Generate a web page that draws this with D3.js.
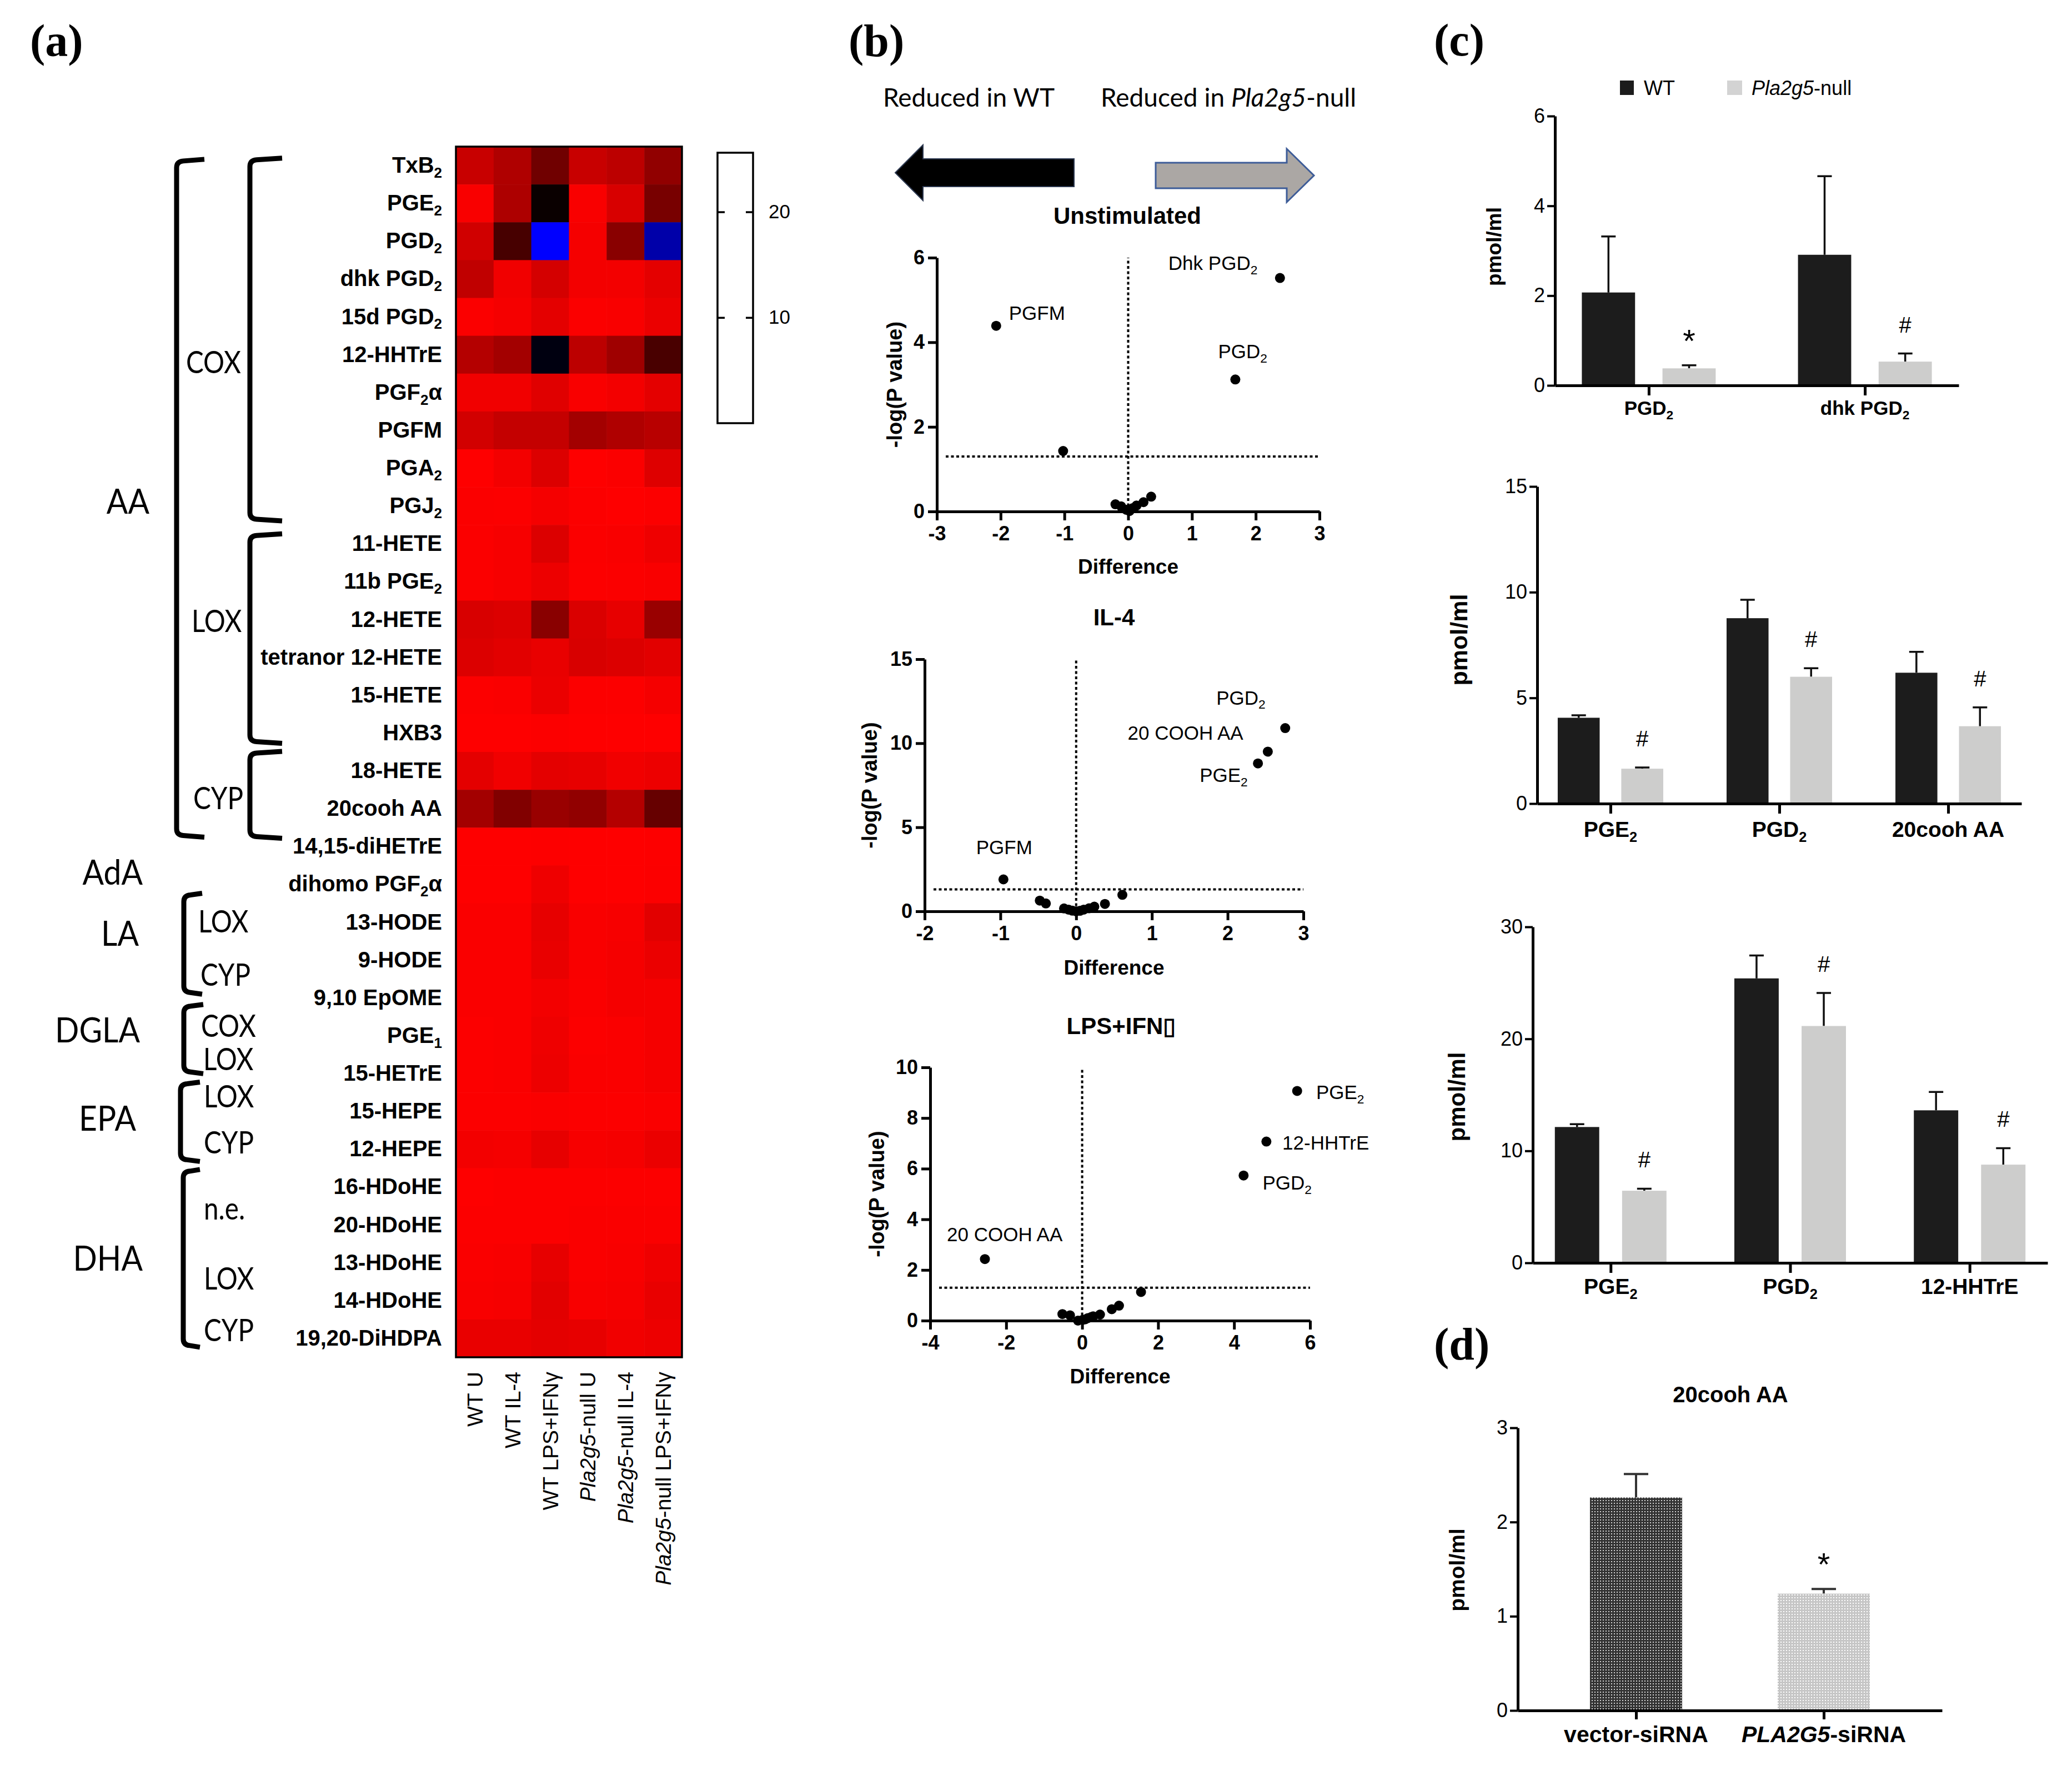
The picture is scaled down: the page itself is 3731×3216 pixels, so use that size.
<!DOCTYPE html>
<html>
<head>
<meta charset="utf-8">
<script src="https://cdn.jsdelivr.net/npm/d3@7"></script>
<style>
  body { margin: 0; background: #fff; }
  text { font-family: "Liberation Sans", Arial, sans-serif; }
</style>
</head>
<body>
<svg id="fig" width="3731" height="3216"></svg>
<script>
// ---------- data: heatmap (a) ----------
// "_2" = subscript, "*x*" = italic
const analytes = ["TxB_2","PGE_2","PGD_2","dhk PGD_2","15d PGD_2","12-HHTrE","PGF_2α","PGFM","PGA_2","PGJ_2",
  "11-HETE","11b PGE_2","12-HETE","tetranor 12-HETE","15-HETE","HXB3","18-HETE","20cooh AA","14,15-diHETrE",
  "dihomo PGF_2α","13-HODE","9-HODE","9,10 EpOME","PGE_1","15-HETrE","15-HEPE","12-HEPE","16-HDoHE","20-HDoHE",
  "13-HDoHE","14-HDoHE","19,20-DiHDPA"];
const conditions = ["WT U","WT IL-4","WT LPS+IFNγ","*Pla2g5*-null U","*Pla2g5*-null IL-4","*Pla2g5*-null LPS+IFNγ"];
const heatValues = [
  [2.7, 3.9, 7.0, 2.7, 3.3, 5.4],
  [0.3, 4.0, 12.0, 0.3, 1.9, 6.6],
  [2.3, 9.0, 25.0, 0.5, 5.8, 20.8],
  [3.1, 0.7, 2.1, 0.6, 0.6, 1.3],
  [0.2, 0.5, 1.3, 0.2, 0.3, 1.0],
  [3.7, 4.5, 13.3, 3.3, 4.7, 8.9],
  [0.7, 0.7, 1.5, 0.3, 0.6, 1.3],
  [2.2, 2.9, 2.9, 4.5, 3.9, 3.5],
  [0.05, 0.6, 1.7, 0.05, 0.2, 1.6],
  [0.2, 0.15, 0.5, 0.15, 0.05, 0.15],
  [0.2, 0.4, 1.7, 0.2, 0.3, 0.8],
  [0.2, 0.4, 0.9, 0.15, 0.2, 0.3],
  [1.9, 1.7, 5.8, 1.8, 1.2, 5.0],
  [1.7, 1.4, 1.1, 1.9, 1.7, 1.4],
  [0.15, 0.25, 1.0, 0.15, 0.15, 0.5],
  [0.05, 0.05, 0.15, 0.05, 0.05, 0.05],
  [1.3, 0.7, 1.3, 1.2, 0.7, 0.9],
  [4.5, 6.2, 5.0, 5.4, 3.7, 7.5],
  [0.05, 0.05, 0.1, 0.05, 0.05, 0.1],
  [0.05, 0.05, 0.8, 0.05, 0.05, 0.15],
  [0.25, 0.25, 1.2, 0.3, 0.4, 1.4],
  [0.25, 0.25, 1.1, 0.3, 0.5, 1.0],
  [0.25, 0.25, 0.6, 0.25, 0.5, 0.5],
  [0.15, 0.25, 0.8, 0.15, 0.25, 0.5],
  [0.15, 0.25, 0.9, 0.25, 0.25, 0.5],
  [0.15, 0.15, 0.25, 0.15, 0.15, 0.25],
  [0.6, 0.5, 1.2, 0.4, 0.5, 1.0],
  [0.05, 0.15, 0.15, 0.15, 0.15, 0.15],
  [0.15, 0.15, 0.15, 0.25, 0.25, 0.25],
  [0.25, 0.35, 1.2, 0.25, 0.35, 0.8],
  [0.35, 0.45, 1.4, 0.35, 0.45, 1.1],
  [1.1, 1.1, 1.3, 1.2, 0.7, 0.9]
];
const colorbarTicks = [10, 20];

// ---------- data: volcano plots (b) ----------
const unstimDiff = [-2.07, -1.02, 2.38, 1.68, -0.20, -0.11, -0.03, 0.02, 0.07, 0.13, 0.24, 0.36];
const unstimLogP = [4.39, 1.43, 5.52, 3.12, 0.17, 0.12, 0.04, 0.01, 0.08, 0.14, 0.22, 0.35];
const il4Diff = [-0.96, 2.76, 2.53, 2.40, -0.48, -0.40, -0.16, -0.10, -0.05, 0.0, 0.05, 0.10, 0.17, 0.24, 0.38, 0.61];
const il4LogP = [1.9, 10.9, 9.5, 8.8, 0.64, 0.47, 0.17, 0.10, 0.04, 0.0, 0.03, 0.10, 0.18, 0.28, 0.44, 0.98];
const lpsDiff = [5.66, 4.85, 4.25, -2.56, 1.55, 0.97, 0.78, 0.47, 0.29, 0.24, 0.15, 0.08, 0.01, -0.11, -0.32, -0.52];
const lpsLogP = [9.07, 7.07, 5.73, 2.43, 1.13, 0.59, 0.45, 0.24, 0.17, 0.14, 0.10, 0.05, 0.03, 0.0, 0.21, 0.26];
const unstimLabels = [["PGFM", -1.87, 4.53], ["Dhk PGD_2", 0.63, 5.71], ["PGD_2", 1.41, 3.62]];
const il4Labels = [["PGD_2", 1.85, 12.3], ["20 COOH AA", 0.68, 10.2], ["PGE_2", 1.63, 7.7], ["PGFM", -1.32, 3.4]];
const lpsLabels = [["PGE_2", 6.16, 8.74], ["12-HHTrE", 5.27, 6.75], ["PGD_2", 4.75, 5.17], ["20 COOH AA", -3.56, 3.13]];
const pThreshold = -Math.log10(0.05);

// ---------- data: bar charts (c), (d) ----------
const c1Groups = ["PGD_2", "dhk PGD_2"];
const c1WT = [2.07, 2.91], c1WTErr = [1.25, 1.75];
const c1KO = [0.38, 0.53], c1KOErr = [0.07, 0.18];
const c1Marks = ["*", "#"];

const c2Groups = ["PGE_2", "PGD_2", "20cooh AA"];
const c2WT = [4.06, 8.77, 6.19], c2WTErr = [0.12, 0.87, 0.99];
const c2KO = [1.65, 6.0, 3.66], c2KOErr = [0.06, 0.4, 0.89];
const c2Marks = ["#", "#", "#"];

const c3Groups = ["PGE_2", "PGD_2", "12-HHTrE"];
const c3WT = [12.13, 25.4, 13.62], c3WTErr = [0.25, 2.05, 1.64];
const c3KO = [6.44, 21.15, 8.77], c3KOErr = [0.18, 2.95, 1.47];
const c3Marks = ["#", "#", "#"];

const dGroups = ["vector-siRNA", "*PLA2G5*-siRNA"];
const dValues = [2.26, 1.24], dErr = [0.25, 0.05];
const dMarks = ["", "*"];

// ---------- helpers ----------
const svg = d3.select("#fig");
svg.append("rect").attr("width", 3731).attr("height", 3216).attr("fill", "#fff");

const defs = svg.append("defs");
function dotPattern(id, base, dot) {
  const p = defs.append("pattern").attr("id", id).attr("width", 5).attr("height", 5)
    .attr("patternUnits", "userSpaceOnUse");
  p.append("rect").attr("width", 5).attr("height", 5).attr("fill", base);
  p.append("rect").attr("width", 2).attr("height", 2).attr("x", 1).attr("y", 1).attr("fill", dot);
}
dotPattern("darkDots", "#333", "#d8d8d8");
dotPattern("lightDots", "#c6c6c6", "#ffffff");

function rich(sel, str, size) {
  const parts = str.split(/(\*[^*]+\*|_\d)/).filter(s => s !== "");
  let shifted = false;
  parts.forEach(p => {
    const t = sel.append("tspan");
    if (p.startsWith("_")) {
      t.text(p.slice(1)).attr("font-size", size * 0.65).attr("dy", size * 0.22);
      shifted = true;
    } else {
      if (shifted) { t.attr("dy", -size * 0.22); shifted = false; }
      if (p.startsWith("*")) t.text(p.slice(1, -1)).attr("font-style", "italic");
      else t.text(p);
    }
  });
  return sel;
}

const markSize = m => m === "*" ? 58 : 40;

function panelLetter(txt, x, y) {
  svg.append("text").attr("x", x).attr("y", y).text(txt)
    .style("font-family", "'Liberation Serif', serif").attr("font-size", 82).attr("font-weight", "bold");
}

function styleAxis(g, size, bold) {
  g.attr("font-family", null).attr("font-size", null);
  g.select(".domain").attr("stroke-width", 5).attr("stroke", "#000");
  g.selectAll(".tick line").attr("stroke-width", 5).attr("stroke", "#000");
  g.selectAll(".tick text").attr("font-size", size).attr("font-weight", bold ? "bold" : "normal").attr("fill", "#000");
}

// ---------- (a) heatmap ----------
function drawHeatmap() {
  const hm = {left: 821, right: 1228, top: 264, bottom: 2444};
  const xCol = d3.scaleBand().domain(d3.range(conditions.length)).range([hm.left, hm.right]);
  const yRow = d3.scaleBand().domain(analytes).range([hm.top, hm.bottom]);
  const rowPos = d3.scaleLinear().domain([0, analytes.length]).range([hm.top, hm.bottom]);
  const heatColor = d3.scaleLinear().domain([0, 12.5, 25]).range(["#ff0000", "#000000", "#0000ff"]);

  const cells = analytes.flatMap((a, i) => heatValues[i].map((v, j) => ({a, j, v})));
  svg.append("g").selectAll("rect").data(cells).join("rect")
    .attr("x", d => xCol(d.j)).attr("y", d => yRow(d.a))
    .attr("width", xCol.bandwidth() + 0.6).attr("height", yRow.bandwidth() + 0.6)
    .attr("fill", d => heatColor(d.v));
  svg.append("rect").attr("x", hm.left).attr("y", hm.top)
    .attr("width", hm.right - hm.left).attr("height", hm.bottom - hm.top)
    .attr("fill", "none").attr("stroke", "#000").attr("stroke-width", 3.5);

  // row labels
  svg.append("g").selectAll("text").data(analytes).join("text")
    .attr("x", 796).attr("y", d => yRow(d) + yRow.bandwidth() / 2 + 13)
    .attr("text-anchor", "end").attr("font-size", 40).attr("font-weight", "bold")
    .each(function(d) { rich(d3.select(this), d, 40); });

  // column labels
  svg.append("g").selectAll("text").data(conditions).join("text")
    .attr("transform", (d, i) => `translate(${xCol(i) + xCol.bandwidth() / 2},${hm.bottom + 26}) rotate(-90)`)
    .attr("dy", "0.36em").attr("text-anchor", "end").attr("font-size", 39)
    .each(function(d) { rich(d3.select(this), d, 39); });

  // brackets (row positions in row units)
  const brackets = [
    {x: 318, arm: 368, r0: 0.38, r1: 18.21},
    {x: 450, arm: 508, r0: 0.35, r1: 9.85},
    {x: 450, arm: 508, r0: 10.28, r1: 15.73},
    {x: 450, arm: 508, r0: 16.03, r1: 18.24},
    {x: 331, arm: 364, r0: 19.78, r1: 22.36},
    {x: 331, arm: 366, r0: 22.72, r1: 24.46},
    {x: 325, arm: 360, r0: 24.77, r1: 26.78},
    {x: 330, arm: 360, r0: 27.08, r1: 31.69}
  ];
  svg.append("g").selectAll("path").data(brackets).join("path")
    .attr("d", b => {
      const y0 = rowPos(b.r0), y1 = rowPos(b.r1), x = b.x, a = b.arm;
      return `M${a},${y0 - 3} L${x + 12},${y0} Q${x},${y0 + 1} ${x},${y0 + 12} L${x},${y1 - 12} Q${x},${y1 - 1} ${x + 12},${y1} L${a},${y1 + 3}`;
    })
    .attr("fill", "none").attr("stroke", "#000").attr("stroke-width", 9);

  const groupLabels = [
    ["AA", 269, 9.37, 1], ["AdA", 257, 19.18, 1], ["LA", 250, 20.79, 1], ["DGLA", 252, 23.35, 1],
    ["EPA", 245, 25.68, 1], ["DHA", 257, 29.38, 1],
    ["COX", 335, 5.70, 0], ["LOX", 345, 12.54, 0], ["CYP", 348, 17.22, 0],
    ["LOX", 357, 20.47, 0], ["CYP", 361, 21.88, 0], ["COX", 362, 23.23, 0], ["LOX", 366, 24.11, 0],
    ["LOX", 367, 25.10, 0], ["CYP", 367, 26.31, 0], ["n.e.", 367, 28.06, 0], ["LOX", 367, 29.91, 0],
    ["CYP", 367, 31.28, 0]
  ];
  // Calibri-like narrow face: squeeze Lato horizontally
  svg.append("g").selectAll("text").data(groupLabels).join("text")
    .attr("transform", d => `translate(${d[1]},${rowPos(d[2])}) scale(${d[3] ? 0.92 : 0.85},1)`)
    .attr("dy", "0.36em")
    .attr("text-anchor", d => d[3] ? "end" : "start")
    .attr("font-size", d => d[3] ? 62 : 56)
    .style("font-family", "Lato, 'Noto Sans', sans-serif")
    .text(d => d[0]);

  // colour bar (drawn blank, as in the figure)
  const cb = {left: 1292, right: 1356, top: 275, bottom: 762};
  const cbScale = d3.scaleLinear().domain([0, 25.6]).range([cb.bottom, cb.top]);
  svg.append("rect").attr("x", cb.left).attr("y", cb.top)
    .attr("width", cb.right - cb.left).attr("height", cb.bottom - cb.top)
    .attr("fill", "#fff").attr("stroke", "#000").attr("stroke-width", 3.5);
  const ra = svg.append("g").attr("transform", `translate(${cb.right},0)`)
    .call(d3.axisRight(cbScale).tickValues(colorbarTicks).tickSize(-13).tickSizeOuter(0).tickPadding(28));
  ra.select(".domain").remove();
  ra.attr("font-family", null).attr("font-size", null);
  ra.selectAll(".tick line").attr("stroke-width", 3.5);
  ra.selectAll(".tick text").attr("font-size", 35);
  const la = svg.append("g").attr("transform", `translate(${cb.left},0)`)
    .call(d3.axisLeft(cbScale).tickValues(colorbarTicks).tickSize(-13).tickFormat(""));
  la.select(".domain").remove();
  la.selectAll(".tick line").attr("stroke-width", 3.5);
}

// ---------- (b) volcano plots ----------
function arrow(tipX, tailX, yc, bodyHalf, headHalf, headLen, fill, stroke, sw) {
  const dir = Math.sign(tipX - tailX);
  const hb = tipX - dir * headLen;
  const pts = [[tailX, yc - bodyHalf], [hb, yc - bodyHalf], [hb, yc - headHalf], [tipX, yc],
    [hb, yc + headHalf], [hb, yc + bodyHalf], [tailX, yc + bodyHalf]];
  svg.append("polygon").attr("points", pts.map(p => p.join(",")).join(" "))
    .attr("fill", fill).attr("stroke", stroke).attr("stroke-width", sw);
}

function drawVolcano(cfg) {
  const g = svg.append("g");
  const x = d3.scaleLinear().domain(cfg.xDomain).range([cfg.left, cfg.right]);
  const y = d3.scaleLinear().domain(cfg.yDomain).range([cfg.bottom, cfg.top]);

  g.append("text").attr("x", cfg.titleX).attr("y", cfg.titleY).attr("text-anchor", "middle")
    .attr("font-size", 42).attr("font-weight", "bold").text(cfg.title);

  // significance guides
  g.append("line").attr("x1", cfg.left + 16).attr("x2", cfg.right)
    .attr("y1", y(pThreshold)).attr("y2", y(pThreshold))
    .attr("stroke", "#000").attr("stroke-width", 4).attr("stroke-dasharray", "5 4.5");
  g.append("line").attr("x1", x(0)).attr("x2", x(0))
    .attr("y1", y(0)).attr("y2", y(cfg.yDomain[1]))
    .attr("stroke", "#000").attr("stroke-width", 4).attr("stroke-dasharray", "5 4.5");

  const xa = g.append("g").attr("transform", `translate(0,${cfg.bottom})`)
    .call(d3.axisBottom(x).tickValues(cfg.xTicks).tickSize(16).tickSizeOuter(0).tickPadding(10).tickFormat(d => String(d)));
  styleAxis(xa, 36, true);
  const ya = g.append("g").attr("transform", `translate(${cfg.left},0)`)
    .call(d3.axisLeft(y).tickValues(cfg.yTicks).tickSize(16).tickSizeOuter(0).tickPadding(6).tickFormat(d => String(d)));
  styleAxis(ya, 36, true);

  g.selectAll("circle").data(cfg.diff.map((d, i) => [d, cfg.logp[i]])).join("circle")
    .attr("cx", d => x(d[0])).attr("cy", d => y(d[1])).attr("r", 9).attr("fill", "#000");

  g.selectAll(".lab").data(cfg.labels).join("text").attr("class", "lab")
    .attr("x", d => x(d[1])).attr("y", d => y(d[2])).attr("font-size", 35)
    .each(function(d) { rich(d3.select(this), d[0], 35); });

  g.append("text").attr("x", (cfg.left + cfg.right) / 2).attr("y", cfg.xTitleY)
    .attr("text-anchor", "middle").attr("font-size", 37).attr("font-weight", "bold").text("Difference");
  g.append("text").attr("transform", `translate(${cfg.yTitleX},${(cfg.top + cfg.bottom) / 2}) rotate(-90)`)
    .attr("dy", "0.35em").attr("text-anchor", "middle").attr("font-size", 38).attr("font-weight", "bold")
    .text("-log(P value)");
}

// ---------- (c), (d) bars ----------
function drawBars(cfg) {
  const g = svg.append("g");
  const x0 = d3.scalePoint().domain(cfg.groups).range([cfg.left, cfg.right]).padding(0.434);
  const x1 = d3.scaleBand().domain(["WT", "KO"]).range([-cfg.half, cfg.half]).paddingInner(0.34);
  const y = d3.scaleLinear().domain([0, cfg.yMax]).range([cfg.bottom, cfg.top]);
  const rows = cfg.groups.flatMap((grp, i) => [
    {grp, s: "WT", v: cfg.wt[i], e: cfg.wtErr[i], mark: ""},
    {grp, s: "KO", v: cfg.ko[i], e: cfg.koErr[i], mark: cfg.marks[i]}
  ]);
  const cx = d => x0(d.grp) + x1(d.s) + x1.bandwidth() / 2;

  g.selectAll(".err").data(rows).join("path").attr("class", "err")
    .attr("d", d => `M${cx(d)},${y(d.v)}V${y(d.v + d.e)}M${cx(d) - 13},${y(d.v + d.e)}H${cx(d) + 13}`)
    .attr("stroke", "#111").attr("stroke-width", 3.5).attr("fill", "none");
  g.selectAll(".bar").data(rows).join("rect").attr("class", "bar")
    .attr("x", d => x0(d.grp) + x1(d.s)).attr("width", x1.bandwidth())
    .attr("y", d => y(d.v)).attr("height", d => y(0) - y(d.v))
    .attr("fill", d => d.s === "WT" ? "#1c1c1c" : "#cdcdcc");
  g.selectAll(".mark").data(rows.filter(d => d.mark)).join("text").attr("class", "mark")
    .attr("x", cx).attr("y", d => y(d.v + d.e) - (d.mark === "*" ? 24 : 38)).attr("text-anchor", "middle")
    .attr("font-size", d => markSize(d.mark)).text(d => d.mark);

  const xa = g.append("g").attr("transform", `translate(0,${cfg.bottom})`)
    .call(d3.axisBottom(x0).tickSize(18).tickSizeOuter(0).tickFormat(""));
  styleAxis(xa, 36, false);
  const ya = g.append("g").attr("transform", `translate(${cfg.left},0)`)
    .call(d3.axisLeft(y).tickValues(cfg.yTicks).tickSize(14).tickSizeOuter(0).tickPadding(4).tickFormat(d => String(d)));
  styleAxis(ya, 36, false);
  ya.selectAll(".tick line").attr("stroke-width", 4);

  g.selectAll(".cat").data(cfg.groups).join("text").attr("class", "cat")
    .attr("x", d => x0(d)).attr("y", cfg.catY).attr("text-anchor", "middle")
    .attr("font-size", cfg.catSize).attr("font-weight", "bold")
    .each(function(d) { rich(d3.select(this), d, cfg.catSize); });
  g.append("text").attr("transform", `translate(${cfg.yTitleX},${cfg.yTitleY}) rotate(-90)`)
    .attr("dy", "0.35em").attr("text-anchor", "middle").attr("font-size", cfg.yTitleSize)
    .attr("font-weight", "bold").text("pmol/ml");
}

function drawSiRNA() {
  const g = svg.append("g");
  const cfg = {left: 2733, right: 3497, top: 2571, bottom: 3080};
  const x = d3.scalePoint().domain(dGroups).range([cfg.left, cfg.right]).padding(0.63);
  const y = d3.scaleLinear().domain([0, 3]).range([cfg.bottom, cfg.top]);
  const rows = dGroups.map((grp, i) => ({grp, v: dValues[i], e: dErr[i], mark: dMarks[i], i}));
  const bw = 166;

  g.append("text").attr("x", 3116).attr("y", 2525).attr("text-anchor", "middle")
    .attr("font-size", 40).attr("font-weight", "bold").text("20cooh AA");
  g.selectAll(".err").data(rows).join("path")
    .attr("d", d => `M${x(d.grp)},${y(d.v)}V${y(d.v + d.e)}M${x(d.grp) - 22},${y(d.v + d.e)}H${x(d.grp) + 22}`)
    .attr("stroke", "#333").attr("stroke-width", 4).attr("fill", "none");
  g.selectAll(".bar").data(rows).join("rect")
    .attr("x", d => x(d.grp) - bw / 2).attr("width", bw)
    .attr("y", d => y(d.v)).attr("height", d => y(0) - y(d.v))
    .attr("fill", d => d.i === 0 ? "url(#darkDots)" : "url(#lightDots)");
  g.selectAll(".mark").data(rows.filter(d => d.mark)).join("text")
    .attr("x", d => x(d.grp)).attr("y", d => y(d.v + d.e) - (d.mark === "*" ? 24 : 38)).attr("text-anchor", "middle")
    .attr("font-size", d => markSize(d.mark)).text(d => d.mark);

  const xa = g.append("g").attr("transform", `translate(0,${cfg.bottom})`)
    .call(d3.axisBottom(x).tickSize(16).tickSizeOuter(0).tickFormat(""));
  styleAxis(xa, 36, false);
  const ya = g.append("g").attr("transform", `translate(${cfg.left},0)`)
    .call(d3.axisLeft(y).tickValues([0, 1, 2, 3]).tickSize(14).tickSizeOuter(0).tickPadding(4).tickFormat(d => String(d)));
  styleAxis(ya, 36, false);
  ya.selectAll(".tick line").attr("stroke-width", 4);

  g.selectAll(".cat").data(dGroups).join("text")
    .attr("x", d => x(d)).attr("y", 3137).attr("text-anchor", "middle")
    .attr("font-size", 41).attr("font-weight", "bold")
    .each(function(d) { rich(d3.select(this), d, 41); });
  g.append("text").attr("transform", `translate(2623,2827) rotate(-90)`)
    .attr("dy", "0.35em").attr("text-anchor", "middle").attr("font-size", 39)
    .attr("font-weight", "bold").text("pmol/ml");
}

// ---------- draw ----------
panelLetter("(a)", 54, 101);
panelLetter("(b)", 1528, 101);
panelLetter("(c)", 2582, 100);
panelLetter("(d)", 2582, 2448);

drawHeatmap();

svg.append("text").attr("x", 1590).attr("y", 192).attr("font-size", 46)
  .style("font-family", "Lato, 'Noto Sans', sans-serif").text("Reduced in WT");
rich(svg.append("text").attr("x", 1982).attr("y", 192).attr("font-size", 46)
  .style("font-family", "Lato, 'Noto Sans', sans-serif"), "Reduced in *Pla2g5*-null", 46);
arrow(1612, 1934, 311, 25, 50, 50, "#000", "#2c3850", 2);
arrow(2366, 2081, 316, 23, 48, 49, "#aba7a4", "#3d5c98", 3);

drawVolcano({title: "Unstimulated", titleX: 2030, titleY: 403,
  xDomain: [-3, 3], yDomain: [0, 6], left: 1687, right: 2376, top: 464, bottom: 921,
  xTicks: [-3, -2, -1, 0, 1, 2, 3], yTicks: [0, 2, 4, 6],
  diff: unstimDiff, logp: unstimLogP, labels: unstimLabels, xTitleY: 1033, yTitleX: 1611});
drawVolcano({title: "IL-4", titleX: 2006, titleY: 1126,
  xDomain: [-2, 3], yDomain: [0, 15], left: 1665, right: 2347, top: 1187, bottom: 1641,
  xTicks: [-2, -1, 0, 1, 2, 3], yTicks: [0, 5, 10, 15],
  diff: il4Diff, logp: il4LogP, labels: il4Labels, xTitleY: 1755, yTitleX: 1566});
drawVolcano({title: "LPS+IFN\u25AF", titleX: 2019, titleY: 1862,
  xDomain: [-4, 6], yDomain: [0, 10], left: 1675, right: 2359, top: 1922, bottom: 2378,
  xTicks: [-4, -2, 0, 2, 4, 6], yTicks: [0, 2, 4, 6, 8, 10],
  diff: lpsDiff, logp: lpsLogP, labels: lpsLabels, xTitleY: 2491, yTitleX: 1579});

// legend for (c)
svg.append("rect").attr("x", 2917).attr("y", 145).attr("width", 25).attr("height", 26).attr("fill", "#1c1c1c");
svg.append("text").attr("x", 2960).attr("y", 171).attr("font-size", 36).text("WT");
svg.append("rect").attr("x", 3110).attr("y", 145).attr("width", 27).attr("height", 26).attr("fill", "#d3d3d3");
rich(svg.append("text").attr("x", 3154).attr("y", 171).attr("font-size", 36), "*Pla2g5*-null", 36);

drawBars({groups: c1Groups, wt: c1WT, wtErr: c1WTErr, ko: c1KO, koErr: c1KOErr, marks: c1Marks,
  left: 2800, right: 3527, top: 209, bottom: 694, yMax: 6, yTicks: [0, 2, 4, 6], half: 120.5,
  catY: 747, catSize: 35, yTitleX: 2690, yTitleY: 444, yTitleSize: 37});
drawBars({groups: c2Groups, wt: c2WT, wtErr: c2WTErr, ko: c2KO, koErr: c2KOErr, marks: c2Marks,
  left: 2768, right: 3640, top: 876, bottom: 1447, yMax: 15, yTicks: [0, 5, 10, 15], half: 95,
  catY: 1507, catSize: 39, yTitleX: 2627, yTitleY: 1152, yTitleSize: 43});
drawBars({groups: c3Groups, wt: c3WT, wtErr: c3WTErr, ko: c3KO, koErr: c3KOErr, marks: c3Marks,
  left: 2760, right: 3687, top: 1669, bottom: 2274, yMax: 30, yTicks: [0, 10, 20, 30], half: 100.5,
  catY: 2330, catSize: 39, yTitleX: 2623, yTitleY: 1975, yTitleSize: 42});
drawSiRNA();
</script>
</body>
</html>
